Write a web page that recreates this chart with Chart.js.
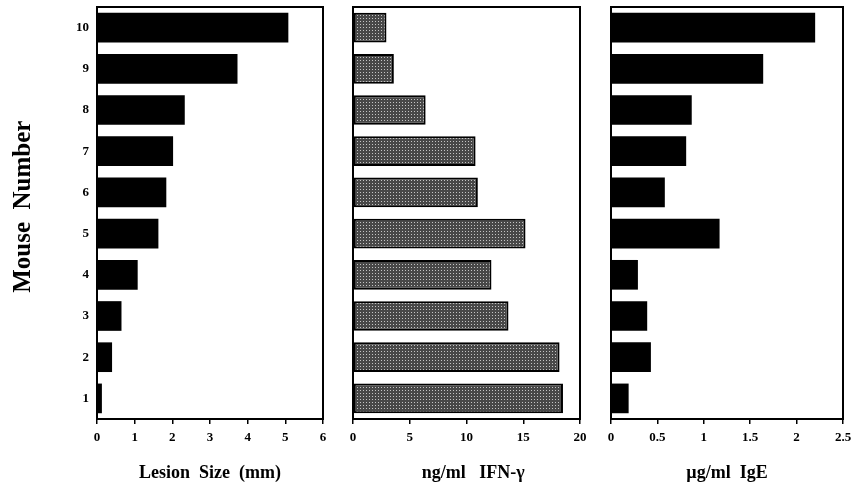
<!DOCTYPE html>
<html>
<head>
<meta charset="utf-8">
<script src="https://cdn.jsdelivr.net/npm/chart.js@4.4.0/dist/chart.umd.min.js"></script>
<style>
html, body { margin: 0; padding: 0; background: #fff; overflow: hidden; }
#wrap { position: relative; width: 852px; height: 484px; }
canvas { position: absolute; left: 0; top: 0; }
</style>
</head>
<body>
<div id="wrap">
<canvas id="lesion" width="852" height="484"></canvas>
<canvas id="ifn" width="852" height="484"></canvas>
<canvas id="ige" width="852" height="484"></canvas>
</div>
<script>
var mice = ['1', '2', '3', '4', '5', '6', '7', '8', '9', '10'];
var lesionSize = [0.13, 0.4, 0.65, 1.08, 1.63, 1.84, 2.02, 2.33, 3.73, 5.08];
var ifnGamma = [18.5, 18.2, 13.7, 12.2, 15.2, 11.0, 10.8, 6.4, 3.6, 2.95];
var ige = [0.19, 0.43, 0.39, 0.29, 1.17, 0.58, 0.81, 0.87, 1.64, 2.2];

var lesionTicks = [0, 6, 1];
var ifnTicks = [0, 20, 5];
var igeTicks = [0, 2.5, 0.5];

var serif = 'Liberation Serif';

// stippled grey fill used by the IFN-gamma bars
function stipple() {
	var c = document.createElement('canvas');
	c.width = 3;
	c.height = 3;
	var g = c.getContext('2d');
	g.fillStyle = '#484848';
	g.fillRect(0, 0, 3, 3);
	g.fillStyle = '#c4c4c4';
	g.fillRect(0, 0, 1, 1);
	return document.getElementById('ifn').getContext('2d').createPattern(c, 'repeat');
}

var framePlugin = {
	id: 'frame',
	afterDatasetsDraw: function(chart) {
		var a = chart.chartArea;
		var ctx = chart.ctx;
		ctx.save();
		ctx.strokeStyle = '#000';
		ctx.lineWidth = 2;
		ctx.strokeRect(a.left, a.top, a.right - a.left, a.bottom - a.top);
		ctx.restore();
	}
};

function panel(id, values, ticks, xTitle, box, fill, border, yTitle) {
	new Chart(document.getElementById(id).getContext('2d'), {
		type: 'bar',
		data: {
			labels: mice,
			datasets: [{
				data: values,
				backgroundColor: fill,
				borderColor: '#000',
				borderWidth: border,
				borderSkipped: false,
				categoryPercentage: 0.72,
				barPercentage: 1
			}]
		},
		options: {
			indexAxis: 'y',
			responsive: false,
			animation: false,
			layout: { padding: { left: 0, top: box.top, right: 852 - box.right, bottom: 0 } },
			plugins: { legend: { display: false }, tooltip: { enabled: false } },
			scales: {
				x: {
					min: ticks[0],
					max: ticks[1],
					ticks: {
						stepSize: ticks[2],
						color: '#000',
						padding: 6,
						font: { family: serif, size: 13, weight: 'bold' },
						callback: function(v) { return String(v); }
					},
					grid: { drawOnChartArea: false, drawTicks: true, tickLength: 5, color: '#000', lineWidth: 1.5 },
					border: { display: false },
					title: {
						display: true,
						text: xTitle,
						color: '#000',
						padding: { top: 0, bottom: 0 },
						font: { family: serif, size: 18, weight: 'bold' }
					},
					afterFit: function(s) {
						s.height = 484 - box.bottom;
						s.paddingLeft = 0;
						s.paddingRight = 0;
					}
				},
				y: {
					reverse: true,
					ticks: {
						display: yTitle ? true : false,
						color: '#000',
						padding: 8,
						font: { family: serif, size: 13, weight: 'bold' }
					},
					grid: { display: false, drawTicks: false },
					border: { display: false },
					title: {
						display: yTitle ? true : false,
						text: yTitle || '',
						color: '#000',
						padding: { top: 9, bottom: 0 },
						font: { family: serif, size: 25, weight: 'bold' }
					},
					afterFit: function(s) {
						s.width = box.left;
						s.paddingTop = 0;
						s.paddingBottom = 0;
					}
				}
			}
		},
		plugins: [framePlugin]
	});
}

panel('lesion', lesionSize, lesionTicks, 'Lesion  Size  (mm)',
	{ left: 97, right: 323, top: 7, bottom: 419 }, '#000', 0, '  Mouse  Number');
panel('ifn', ifnGamma, ifnTicks, '   ng/ml   IFN-\u03b3',
	{ left: 353, right: 580, top: 7, bottom: 419 }, stipple(), 2, null);
panel('ige', ige, igeTicks, '\u00b5g/ml  IgE',
	{ left: 611, right: 843, top: 7, bottom: 419 }, '#000', 0, null);
</script>
</body>
</html>
